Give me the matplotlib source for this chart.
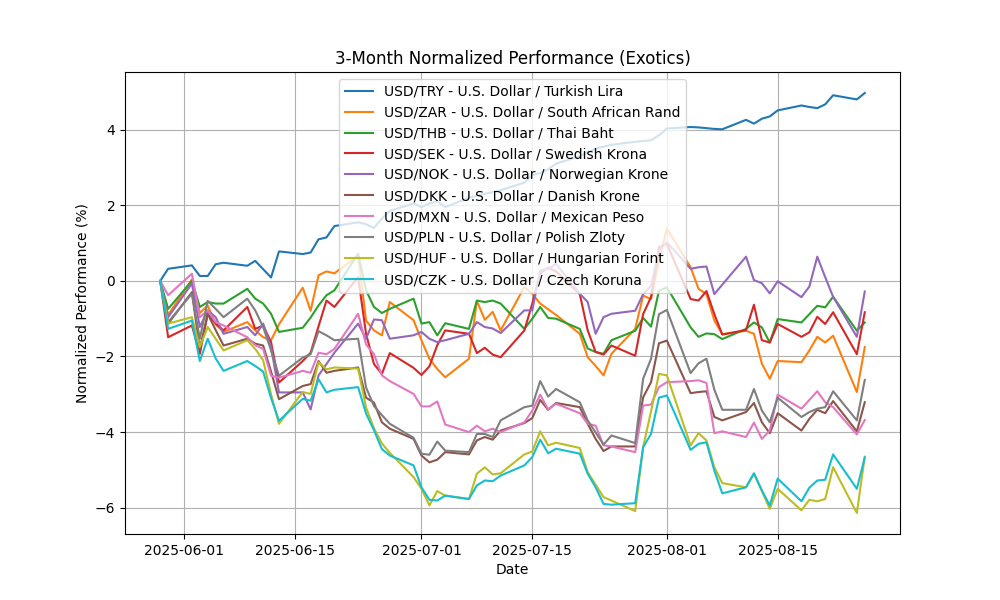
import pandas as pd
import matplotlib
matplotlib.use('Agg')
import matplotlib.pyplot as plt

# business days covered by the chart
dates = pd.bdate_range('2025-05-29', '2025-08-26')

labels = [
    'USD/TRY - U.S. Dollar / Turkish Lira',
    'USD/ZAR - U.S. Dollar / South African Rand',
    'USD/THB - U.S. Dollar / Thai Baht',
    'USD/SEK - U.S. Dollar / Swedish Krona',
    'USD/NOK - U.S. Dollar / Norwegian Krone',
    'USD/DKK - U.S. Dollar / Danish Krone',
    'USD/MXN - U.S. Dollar / Mexican Peso',
    'USD/PLN - U.S. Dollar / Polish Zloty',
    'USD/HUF - U.S. Dollar / Hungarian Forint',
    'USD/CZK - U.S. Dollar / Czech Koruna',
]

usd_try = [0, 0.32, 0.41, 0.13, 0.13, 0.44, 0.48, 0.40, 0.53, 0.31, 0.09, 0.78, 0.71, 0.75, 1.10, 1.15,
           1.45, 1.55, 1.50, 1.40, 1.65, 1.85, 2.05, 1.95, 2.05, 2.10, 1.95, 2.20, 2.25, 2.30, 2.35, 2.40,
           2.60, 2.80, 2.85, 2.95, 3.10, 3.30, 3.40, 3.50, 3.55, 3.60, 3.68, 3.70, 3.72, 3.85, 4.03, 4.07,
           4.06, 4.04, 4.02, 4.01, 4.26, 4.16, 4.29, 4.35, 4.51, 4.64, 4.60, 4.57, 4.67, 4.91, 4.80, 4.97]
usd_zar = [0, -0.90, 0.04, -0.85, -0.65, -1.15, -1.35, -1.09, -1.31, -1.49, -1.57, -1.15, -0.18, -0.79, 0.15, 0.25,
           0.20, 0.67, -1.05, -1.31, -1.44, -0.56, -1.04, -1.57, -2.06, -2.33, -2.55, -2.06, -0.53, -1.03, -0.82, -1.31,
           -0.16, -0.34, -0.60, -0.75, -0.90, -1.40, -2.02, -2.25, -2.50, -1.93, -1.27, -0.39, -0.48, 0.54, 1.38, 0.36,
           -0.21, -0.35, -1.05, -1.41, -1.32, -1.40, -2.19, -2.59, -2.12, -2.15, -1.84, -1.48, -1.63, -1.45, -2.94, -1.75]
usd_thb = [0, -0.74, 0.00, -0.69, -0.56, -0.60, -0.60, -0.21, -0.47, -0.60, -0.87, -1.35, -1.24, -0.97, -0.65, -0.38,
           -0.25, 0.72, -0.25, -0.69, -0.85, -0.74, -0.47, -1.13, -1.09, -1.44, -1.12, -1.27, -0.52, -0.56, -0.52, -0.60,
           -1.27, -1.00, -0.69, -0.98, -1.00, -1.27, -1.79, -1.88, -1.93, -1.57, -1.32, -0.98, -1.21, -0.26, -0.17, -1.23,
           -1.48, -1.39, -1.41, -1.54, -1.27, -1.10, -1.23, -1.63, -1.01, -1.10, -0.88, -0.66, -0.70, -0.42, -1.32, -1.10]
usd_sek = [0, -1.49, -1.18, -1.93, -0.87, -1.13, -1.31, -0.69, -1.27, -1.18, -1.62, -2.69, -2.12, -1.90, -1.20, -0.52,
           -0.69, 0.10, -1.40, -2.20, -2.46, -1.91, -2.30, -2.49, -2.26, -1.70, -1.31, -1.40, -1.91, -1.77, -1.95, -2.02,
           -1.31, -0.60, 0.20, 0.35, 0.25, -0.35, -1.31, -1.88, -1.95, -1.71, -1.98, -0.88, -0.43, 0.89, 0.98, -0.48,
           -0.52, -0.27, -0.88, -1.42, -1.30, -0.63, -1.57, -1.63, -1.14, -1.48, -1.36, -0.95, -1.14, -0.83, -1.94, -0.83]
usd_nok = [0, -0.96, -0.07, -1.22, -0.78, -0.96, -1.40, -1.22, -1.44, -1.13, -1.75, -2.95, -2.95, -3.40, -2.50, -2.20,
           -1.90, -1.13, -1.53, -1.02, -1.04, -1.53, -1.44, -1.35, -1.53, -1.62, -1.57, -1.40, -1.09, -1.22, -1.26, -1.38,
           -0.78, -0.78, 0.28, 0.32, 0.45, -0.34, -0.56, -1.40, -0.96, -0.87, -0.79, -0.35, -0.13, 0.80, 1.02, 0.32,
           0.36, 0.38, -0.35, -0.10, 0.64, 0.02, -0.06, -0.33, -0.01, -0.43, -0.15, 0.64, 0.10, -0.42, -1.48, -0.28]
usd_dkk = [0, -1.13, -0.30, -1.80, -0.87, -1.30, -1.71, -1.53, -1.66, -1.71, -2.40, -3.13, -2.78, -2.73, -2.12, -2.43,
           -2.38, -2.29, -3.09, -3.22, -3.74, -3.91, -4.18, -4.62, -4.80, -4.73, -4.53, -4.59, -4.22, -4.13, -4.20, -3.96,
           -3.76, -3.63, -3.15, -3.41, -3.23, -3.34, -3.78, -4.18, -4.50, -4.38, -4.38, -3.08, -2.68, -1.65, -1.58, -2.97,
           -2.94, -2.92, -3.60, -3.69, -3.47, -3.23, -3.74, -4.03, -3.50, -3.96, -3.65, -3.41, -3.50, -3.18, -3.98, -3.21]
usd_mxn = [0, -0.38, 0.19, -0.96, -0.78, -1.09, -1.18, -1.49, -1.70, -1.80, -2.51, -2.56, -2.38, -2.43, -1.90, -1.94,
           -1.80, -0.87, -1.68, -1.94, -2.50, -2.65, -2.99, -3.32, -3.32, -3.19, -3.80, -4.00, -3.83, -3.98, -3.91, -4.00,
           -3.74, -3.43, -3.01, -3.40, -3.25, -3.50, -3.78, -3.83, -4.35, -4.38, -4.53, -3.30, -3.27, -2.81, -2.68, -2.65,
           -2.63, -2.70, -4.03, -3.98, -4.13, -3.75, -4.18, -3.96, -3.01, -3.38, -3.15, -2.92, -3.21, -3.34, -4.06, -3.68]
usd_pln = [0, -1.09, -0.34, -1.53, -0.53, -0.74, -0.96, -0.47, -0.78, -1.22, -1.84, -2.51, -2.03, -1.94, -1.33, -1.44,
           -1.57, -1.53, -2.82, -3.31, -3.55, -3.78, -4.15, -4.57, -4.60, -4.25, -4.49, -4.53, -4.05, -4.05, -4.13, -3.69,
           -3.34, -3.30, -2.65, -3.06, -2.86, -3.21, -3.69, -4.01, -4.33, -4.09, -4.29, -2.59, -2.06, -0.88, -0.77, -2.44,
           -2.18, -2.06, -2.88, -3.41, -3.41, -2.86, -3.43, -3.74, -3.09, -3.60, -3.47, -3.38, -3.34, -2.92, -3.69, -2.62]
usd_huf = [0, -1.13, -0.96, -1.75, -1.22, -1.53, -1.84, -1.57, -1.80, -2.10, -3.00, -3.78, -2.94, -2.99, -2.15, -2.34,
           -2.29, -2.32, -3.35, -3.90, -4.30, -4.55, -5.19, -5.50, -5.94, -5.56, -5.68, -5.77, -5.10, -4.93, -5.12, -5.09,
           -4.59, -4.51, -3.98, -4.35, -4.28, -4.42, -5.06, -5.39, -5.72, -5.81, -6.09, -4.40, -3.45, -2.46, -2.50, -4.35,
           -4.03, -4.22, -4.93, -5.35, -5.46, -5.10, -5.56, -6.03, -5.50, -6.07, -5.79, -5.83, -5.77, -4.93, -6.14, -4.65]
usd_czk = [0, -1.27, -1.05, -2.12, -1.53, -2.05, -2.38, -2.12, -2.25, -2.40, -3.10, -3.70, -3.12, -3.17, -2.60, -2.95,
           -2.88, -2.81, -3.51, -3.95, -4.45, -4.62, -4.88, -5.46, -5.79, -5.81, -5.68, -5.77, -5.41, -5.28, -5.30, -5.15,
           -4.88, -4.66, -4.20, -4.56, -4.44, -4.57, -5.10, -5.46, -5.90, -5.92, -5.88, -4.40, -4.05, -3.09, -3.03, -4.47,
           -4.31, -4.27, -5.02, -5.62, -5.46, -5.09, -5.54, -5.94, -5.23, -5.83, -5.47, -5.28, -5.26, -4.59, -5.50, -4.67]

series = [usd_try, usd_zar, usd_thb, usd_sek, usd_nok, usd_dkk, usd_mxn, usd_pln, usd_huf, usd_czk]

plt.figure(figsize=(10, 6))
for label, values in zip(labels, series):
    plt.plot(dates, values, label=label)

plt.title('3-Month Normalized Performance (Exotics)')
plt.xlabel('Date')
plt.ylabel('Normalized Performance (%)')
plt.legend(loc='upper center')
plt.grid(True)
plt.savefig('out.png', dpi=100)
